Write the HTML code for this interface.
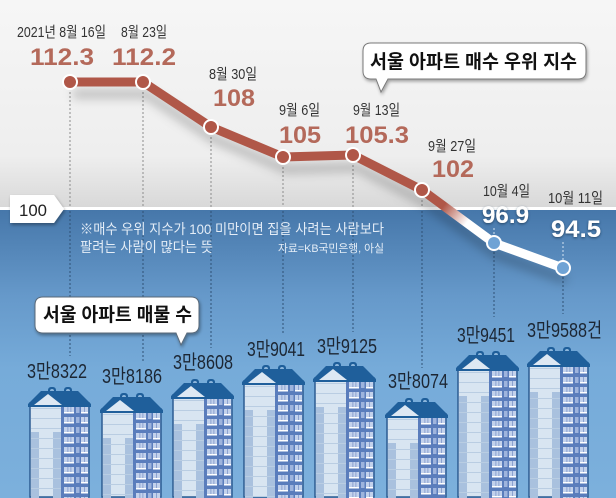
<!DOCTYPE html>
<html><head><meta charset="utf-8"><style>
html,body{margin:0;padding:0;background:#fff;width:616px;height:498px;overflow:hidden;}
svg{display:block;overflow:hidden;}
text{font-family:"Liberation Sans","Noto Sans CJK KR",sans-serif;}
</style></head><body>
<svg width="616" height="498" viewBox="0 0 616 498" xmlns="http://www.w3.org/2000/svg">
<defs>
 <linearGradient id="gTop" x1="0" y1="0" x2="0" y2="1">
  <stop offset="0" stop-color="#f6f6f6"/><stop offset="0.75" stop-color="#eeeeee"/><stop offset="1" stop-color="#d8d8d8"/>
 </linearGradient>
 <linearGradient id="gBlue" x1="0" y1="0" x2="0" y2="1">
  <stop offset="0" stop-color="#4677aa"/><stop offset="0.3" stop-color="#6699ca"/><stop offset="0.55" stop-color="#76abd9"/><stop offset="1" stop-color="#7cb0dc"/>
 </linearGradient>
 <linearGradient id="gSeg" gradientUnits="userSpaceOnUse" x1="422" y1="190" x2="494" y2="243">
  <stop offset="0.3" stop-color="#b05748"/><stop offset="0.62" stop-color="#ffffff"/>
 </linearGradient>
 <filter id="blur" x="-20%" y="-50%" width="140%" height="200%"><feGaussianBlur stdDeviation="5"/></filter>
 <filter id="ds" x="-10%" y="-30%" width="120%" height="160%"><feDropShadow dx="1" dy="2" stdDeviation="1.5" flood-color="#000" flood-opacity="0.35"/></filter>
 <filter id="ts" x="-20%" y="-30%" width="140%" height="160%"><feDropShadow dx="0" dy="1" stdDeviation="1.2" flood-color="#1a3550" flood-opacity="0.8"/></filter>
 <pattern id="win" patternUnits="userSpaceOnUse" x="34" y="19" width="27" height="10">
  <rect x="2" y="1" width="10" height="6" fill="#c3d2ec"/>
  <rect x="2" y="6" width="10" height="1.5" fill="#ffffff"/>
  <rect x="5.5" y="1" width="0.8" height="5" fill="#7f97c9"/>
  <rect x="8.5" y="1" width="0.8" height="5" fill="#7f97c9"/>
  <rect x="14" y="1" width="3.5" height="6" fill="#9eb4dd"/>
  <rect x="19" y="1" width="7" height="6" fill="#c3d2ec"/>
  <rect x="19" y="6" width="7" height="1.5" fill="#ffffff"/>
  <rect x="22" y="1" width="0.8" height="5" fill="#7f97c9"/>
 </pattern>
 <pattern id="floor" patternUnits="userSpaceOnUse" x="0" y="22" width="40" height="10">
  <rect x="0" y="9" width="40" height="1" fill="#b9cde2"/>
 </pattern>
</defs>

<!-- background -->
<rect x="0" y="0" width="616" height="208" fill="url(#gTop)"/>
<rect x="0" y="210" width="616" height="288" fill="url(#gBlue)"/>
<rect x="0" y="207" width="616" height="3" fill="#ffffff"/>

<!-- dotted lines -->
<g stroke-width="1" stroke-dasharray="2,2" fill="none">
 <g stroke="#8c8c8c">
  <line x1="70" y1="88" x2="70" y2="207"/>
  <line x1="143" y1="88" x2="143" y2="207"/>
  <line x1="211" y1="133" x2="211" y2="207"/>
  <line x1="283" y1="163" x2="283" y2="207"/>
  <line x1="353" y1="161" x2="353" y2="207"/>
  <line x1="422" y1="196" x2="422" y2="207"/>
 </g>
 <g stroke="#2f5175">
  <line x1="70" y1="211" x2="70" y2="356"/>
  <line x1="143" y1="211" x2="143" y2="362"/>
  <line x1="211" y1="211" x2="211" y2="348"/>
  <line x1="283" y1="211" x2="283" y2="335"/>
  <line x1="353" y1="211" x2="353" y2="332"/>
  <line x1="422" y1="211" x2="422" y2="368"/>
  <line x1="494" y1="248" x2="494" y2="317"/>
  <line x1="563" y1="273" x2="563" y2="314"/>
 </g>
 <g stroke="#d4e3f2">
  <line x1="494" y1="228" x2="494" y2="240"/>
  <line x1="563" y1="242" x2="563" y2="262"/>
 </g>
</g>

<!-- line shadow -->
<polyline points="70,82 143,82 211,127 283,157 353,155 422,190 494,243 563,268" transform="translate(3,12)" fill="none" stroke="#000" stroke-opacity="0.22" stroke-width="9" stroke-linejoin="round" filter="url(#blur)"/>

<!-- series line -->
<polyline points="70,82 143,82 211,127 283,157 353,155 422,190" fill="none" stroke="#b05748" stroke-width="9" stroke-linejoin="round" stroke-linecap="round"/>
<line x1="422" y1="190" x2="494" y2="243" stroke="url(#gSeg)" stroke-width="9" stroke-linecap="round"/>
<line x1="494" y1="243" x2="563" y2="268" stroke="#ffffff" stroke-width="9" stroke-linecap="round"/>

<g stroke="#ffffff" stroke-width="2">
 <circle cx="70" cy="82" r="7" fill="#b05748"/>
 <circle cx="143" cy="82" r="7" fill="#b05748"/>
 <circle cx="211" cy="127" r="7" fill="#b05748"/>
 <circle cx="283" cy="157" r="7" fill="#b05748"/>
 <circle cx="353" cy="155" r="7" fill="#b05748"/>
 <circle cx="422" cy="190" r="7" fill="#b05748"/>
 <circle cx="494" cy="243" r="7" fill="#6fa3d5"/>
 <circle cx="563" cy="268" r="7" fill="#6fa3d5"/>
</g>

<!-- date labels -->
<g font-size="15" fill="#333333">
 <text x="17" y="37" textLength="89" lengthAdjust="spacingAndGlyphs">2021년 8월 16일</text>
 <text x="121" y="37" textLength="46" lengthAdjust="spacingAndGlyphs">8월 23일</text>
 <text x="209" y="79" textLength="48" lengthAdjust="spacingAndGlyphs">8월 30일</text>
 <text x="279" y="115" textLength="41" lengthAdjust="spacingAndGlyphs">9월 6일</text>
 <text x="353" y="115" textLength="47" lengthAdjust="spacingAndGlyphs">9월 13일</text>
 <text x="428" y="151" textLength="48" lengthAdjust="spacingAndGlyphs">9월 27일</text>
 <text x="483" y="196" textLength="47" lengthAdjust="spacingAndGlyphs">10월 4일</text>
 <text x="548" y="203" textLength="55" lengthAdjust="spacingAndGlyphs">10월 11일</text>
</g>

<!-- values -->
<g font-size="24" font-weight="bold" fill="#b4695a">
 <text x="30" y="65" textLength="64" lengthAdjust="spacingAndGlyphs">112.3</text>
 <text x="112" y="65" textLength="64" lengthAdjust="spacingAndGlyphs">112.2</text>
 <text x="213" y="106" textLength="42" lengthAdjust="spacingAndGlyphs">108</text>
 <text x="279" y="143" textLength="42" lengthAdjust="spacingAndGlyphs">105</text>
 <text x="345" y="143" textLength="64" lengthAdjust="spacingAndGlyphs">105.3</text>
 <text x="432" y="177" textLength="42" lengthAdjust="spacingAndGlyphs">102</text>
</g>
<g font-size="24" font-weight="bold" fill="#ffffff" filter="url(#ts)">
 <text x="482" y="223" textLength="47" lengthAdjust="spacingAndGlyphs">96.9</text>
 <text x="551" y="237" textLength="50" lengthAdjust="spacingAndGlyphs">94.5</text>
</g>

<!-- 100 tag -->
<polygon points="10,195 54,195 64,209 54,223 10,223" fill="#ffffff" filter="url(#ds)"/>
<text x="19" y="216" font-size="17" fill="#222" textLength="28" lengthAdjust="spacingAndGlyphs">100</text>

<!-- note -->
<g fill="#e4edf7">
 <text x="80" y="234" font-size="14" textLength="304" lengthAdjust="spacingAndGlyphs">※매수 우위 지수가 100 미만이면 집을 사려는 사람보다</text>
 <text x="80" y="252" font-size="14" textLength="133" lengthAdjust="spacingAndGlyphs">팔려는 사람이 많다는 뜻</text>
 <text x="278" y="252" font-size="11" textLength="106" lengthAdjust="spacingAndGlyphs">자료=KB국민은행, 아실</text>
</g>

<!-- callouts -->
<path d="M371,43 H578 Q586,43 586,51 V71 Q586,79 578,79 H388 L381,92 L376,79 H371 Q363,79 363,71 V51 Q363,43 371,43 Z" fill="#ffffff" stroke="#7a7a7a" stroke-width="1" filter="url(#ds)"/>
<text x="370" y="68" font-size="19" font-weight="bold" fill="#111" textLength="207" lengthAdjust="spacingAndGlyphs">서울 아파트 매수 우위 지수</text>

<path d="M43,297 H191 Q199,297 199,305 V325 Q199,333 191,333 H187 L181,345 L176,333 H43 Q35,333 35,325 V305 Q35,297 43,297 Z" fill="#ffffff" stroke="#5a6a7a" stroke-width="1" filter="url(#ds)"/>
<text x="43" y="321" font-size="19" font-weight="bold" fill="#111" textLength="149" lengthAdjust="spacingAndGlyphs">서울 아파트 매물 수</text>

<!-- buildings -->
<g transform="translate(28,387)">
  <rect x="20" y="0" width="8" height="7" rx="3" fill="#1e5e9a"/><rect x="36" y="0" width="8" height="7" rx="3" fill="#1e5e9a"/>
  <rect x="22" y="2" width="4" height="4" rx="2" fill="#8db6dc"/><rect x="38" y="2" width="4" height="4" rx="2" fill="#8db6dc"/>
  <rect x="2" y="16" width="59" height="94" fill="#d8e5f1" stroke="#2c5c92" stroke-width="1.5"/>
  <rect x="3" y="45" width="8" height="66" fill="#a9c1de"/><rect x="25" y="45" width="8" height="66" fill="#a9c1de"/>
  <rect x="3" y="18" width="30" height="93" fill="url(#floor)"/>
  <rect x="33" y="17" width="27.3" height="94" fill="#5a7dbc"/><rect x="33" y="17" width="27.3" height="94" fill="url(#win)"/>
  <polygon points="0,17 13,4 50,4 63,17 63,20 0,20" fill="#1f5f9b"/><polygon points="6,18 20,7 34,18" fill="#dde8f3"/>
</g>
<g transform="translate(100,393)">
  <rect x="20" y="0" width="8" height="7" rx="3" fill="#1e5e9a"/><rect x="36" y="0" width="8" height="7" rx="3" fill="#1e5e9a"/>
  <rect x="22" y="2" width="4" height="4" rx="2" fill="#8db6dc"/><rect x="38" y="2" width="4" height="4" rx="2" fill="#8db6dc"/>
  <rect x="2" y="16" width="59" height="88" fill="#d8e5f1" stroke="#2c5c92" stroke-width="1.5"/>
  <rect x="3" y="45" width="8" height="60" fill="#a9c1de"/><rect x="25" y="45" width="8" height="60" fill="#a9c1de"/>
  <rect x="3" y="18" width="30" height="87" fill="url(#floor)"/>
  <rect x="33" y="17" width="27.3" height="88" fill="#5a7dbc"/><rect x="33" y="17" width="27.3" height="88" fill="url(#win)"/>
  <polygon points="0,17 13,4 50,4 63,17 63,20 0,20" fill="#1f5f9b"/><polygon points="6,18 20,7 34,18" fill="#dde8f3"/>
</g>
<g transform="translate(171,379)">
  <rect x="20" y="0" width="8" height="7" rx="3" fill="#1e5e9a"/><rect x="36" y="0" width="8" height="7" rx="3" fill="#1e5e9a"/>
  <rect x="22" y="2" width="4" height="4" rx="2" fill="#8db6dc"/><rect x="38" y="2" width="4" height="4" rx="2" fill="#8db6dc"/>
  <rect x="2" y="16" width="59" height="102" fill="#d8e5f1" stroke="#2c5c92" stroke-width="1.5"/>
  <rect x="3" y="45" width="8" height="74" fill="#a9c1de"/><rect x="25" y="45" width="8" height="74" fill="#a9c1de"/>
  <rect x="3" y="18" width="30" height="101" fill="url(#floor)"/>
  <rect x="33" y="17" width="27.3" height="102" fill="#5a7dbc"/><rect x="33" y="17" width="27.3" height="102" fill="url(#win)"/>
  <polygon points="0,17 13,4 50,4 63,17 63,20 0,20" fill="#1f5f9b"/><polygon points="6,18 20,7 34,18" fill="#dde8f3"/>
</g>
<g transform="translate(242,365)">
  <rect x="20" y="0" width="8" height="7" rx="3" fill="#1e5e9a"/><rect x="36" y="0" width="8" height="7" rx="3" fill="#1e5e9a"/>
  <rect x="22" y="2" width="4" height="4" rx="2" fill="#8db6dc"/><rect x="38" y="2" width="4" height="4" rx="2" fill="#8db6dc"/>
  <rect x="2" y="16" width="59" height="116" fill="#d8e5f1" stroke="#2c5c92" stroke-width="1.5"/>
  <rect x="3" y="45" width="8" height="88" fill="#a9c1de"/><rect x="25" y="45" width="8" height="88" fill="#a9c1de"/>
  <rect x="3" y="18" width="30" height="115" fill="url(#floor)"/>
  <rect x="33" y="17" width="27.3" height="116" fill="#5a7dbc"/><rect x="33" y="17" width="27.3" height="116" fill="url(#win)"/>
  <polygon points="0,17 13,4 50,4 63,17 63,20 0,20" fill="#1f5f9b"/><polygon points="6,18 20,7 34,18" fill="#dde8f3"/>
</g>
<g transform="translate(313,362)">
  <rect x="20" y="0" width="8" height="7" rx="3" fill="#1e5e9a"/><rect x="36" y="0" width="8" height="7" rx="3" fill="#1e5e9a"/>
  <rect x="22" y="2" width="4" height="4" rx="2" fill="#8db6dc"/><rect x="38" y="2" width="4" height="4" rx="2" fill="#8db6dc"/>
  <rect x="2" y="16" width="59" height="119" fill="#d8e5f1" stroke="#2c5c92" stroke-width="1.5"/>
  <rect x="3" y="45" width="8" height="91" fill="#a9c1de"/><rect x="25" y="45" width="8" height="91" fill="#a9c1de"/>
  <rect x="3" y="18" width="30" height="118" fill="url(#floor)"/>
  <rect x="33" y="17" width="27.3" height="119" fill="#5a7dbc"/><rect x="33" y="17" width="27.3" height="119" fill="url(#win)"/>
  <polygon points="0,17 13,4 50,4 63,17 63,20 0,20" fill="#1f5f9b"/><polygon points="6,18 20,7 34,18" fill="#dde8f3"/>
</g>
<g transform="translate(385,398)">
  <rect x="20" y="0" width="8" height="7" rx="3" fill="#1e5e9a"/><rect x="36" y="0" width="8" height="7" rx="3" fill="#1e5e9a"/>
  <rect x="22" y="2" width="4" height="4" rx="2" fill="#8db6dc"/><rect x="38" y="2" width="4" height="4" rx="2" fill="#8db6dc"/>
  <rect x="2" y="16" width="59" height="83" fill="#d8e5f1" stroke="#2c5c92" stroke-width="1.5"/>
  <rect x="3" y="45" width="8" height="55" fill="#a9c1de"/><rect x="25" y="45" width="8" height="55" fill="#a9c1de"/>
  <rect x="3" y="18" width="30" height="82" fill="url(#floor)"/>
  <rect x="33" y="17" width="27.3" height="83" fill="#5a7dbc"/><rect x="33" y="17" width="27.3" height="83" fill="url(#win)"/>
  <polygon points="0,17 13,4 50,4 63,17 63,20 0,20" fill="#1f5f9b"/><polygon points="6,18 20,7 34,18" fill="#dde8f3"/>
</g>
<g transform="translate(456,351)">
  <rect x="20" y="0" width="8" height="7" rx="3" fill="#1e5e9a"/><rect x="36" y="0" width="8" height="7" rx="3" fill="#1e5e9a"/>
  <rect x="22" y="2" width="4" height="4" rx="2" fill="#8db6dc"/><rect x="38" y="2" width="4" height="4" rx="2" fill="#8db6dc"/>
  <rect x="2" y="16" width="59" height="130" fill="#d8e5f1" stroke="#2c5c92" stroke-width="1.5"/>
  <rect x="3" y="45" width="8" height="102" fill="#a9c1de"/><rect x="25" y="45" width="8" height="102" fill="#a9c1de"/>
  <rect x="3" y="18" width="30" height="129" fill="url(#floor)"/>
  <rect x="33" y="17" width="27.3" height="130" fill="#5a7dbc"/><rect x="33" y="17" width="27.3" height="130" fill="url(#win)"/>
  <polygon points="0,17 13,4 50,4 63,17 63,20 0,20" fill="#1f5f9b"/><polygon points="6,18 20,7 34,18" fill="#dde8f3"/>
</g>
<g transform="translate(527,347)">
  <rect x="20" y="0" width="8" height="7" rx="3" fill="#1e5e9a"/><rect x="36" y="0" width="8" height="7" rx="3" fill="#1e5e9a"/>
  <rect x="22" y="2" width="4" height="4" rx="2" fill="#8db6dc"/><rect x="38" y="2" width="4" height="4" rx="2" fill="#8db6dc"/>
  <rect x="2" y="16" width="59" height="134" fill="#d8e5f1" stroke="#2c5c92" stroke-width="1.5"/>
  <rect x="3" y="45" width="8" height="106" fill="#a9c1de"/><rect x="25" y="45" width="8" height="106" fill="#a9c1de"/>
  <rect x="3" y="18" width="30" height="133" fill="url(#floor)"/>
  <rect x="33" y="17" width="27.3" height="134" fill="#5a7dbc"/><rect x="33" y="17" width="27.3" height="134" fill="url(#win)"/>
  <polygon points="0,17 13,4 50,4 63,17 63,20 0,20" fill="#1f5f9b"/><polygon points="6,18 20,7 34,18" fill="#dde8f3"/>
</g>

<!-- building labels -->
<g font-size="20" fill="#1c2633">
 <text x="27" y="378" textLength="60" lengthAdjust="spacingAndGlyphs">3만8322</text>
 <text x="102" y="383" textLength="60" lengthAdjust="spacingAndGlyphs">3만8186</text>
 <text x="173" y="369" textLength="60" lengthAdjust="spacingAndGlyphs">3만8608</text>
 <text x="247" y="356" textLength="58" lengthAdjust="spacingAndGlyphs">3만9041</text>
 <text x="317" y="353" textLength="60" lengthAdjust="spacingAndGlyphs">3만9125</text>
 <text x="388" y="388" textLength="60" lengthAdjust="spacingAndGlyphs">3만8074</text>
 <text x="457" y="342" textLength="58" lengthAdjust="spacingAndGlyphs">3만9451</text>
 <text x="527" y="337" textLength="75" lengthAdjust="spacingAndGlyphs">3만9588건</text>
</g>
</svg>
</body></html>
